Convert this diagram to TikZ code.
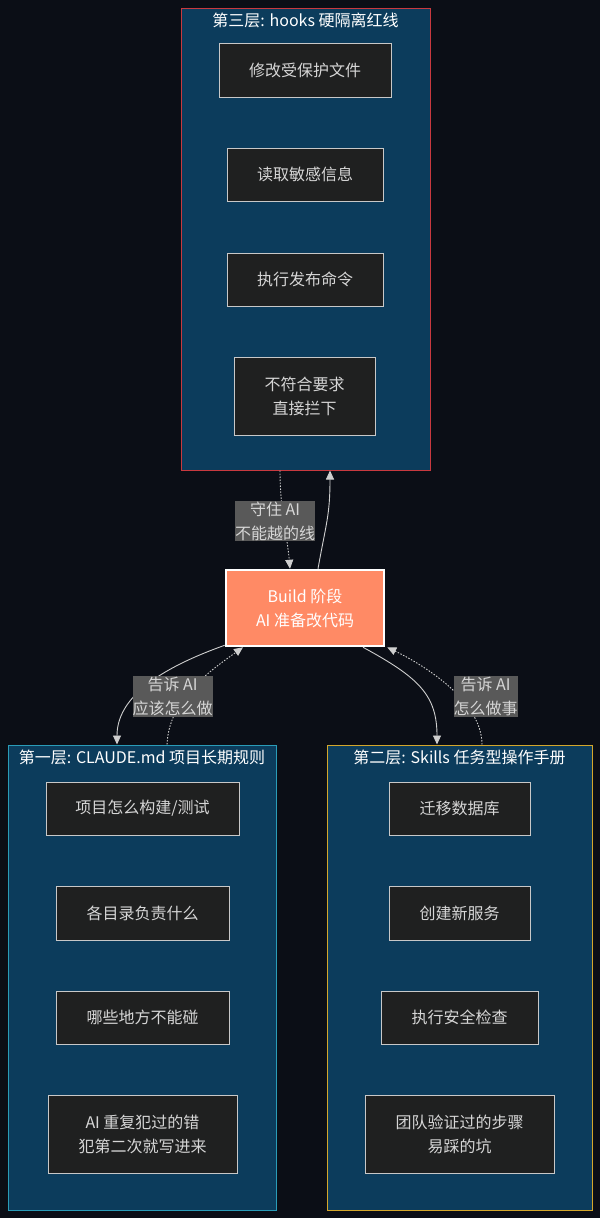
\documentclass[tikz,border=0pt]{standalone}
\usepackage{fontspec}
\setmainfont{Noto Sans CJK SC}
\usetikzlibrary{arrows.meta}

\definecolor{bgdark}{HTML}{0B0E16}
\definecolor{layerfill}{HTML}{0C3C5C}
\definecolor{hooksline}{HTML}{C8393F}
\definecolor{claudeline}{HTML}{2A9CB8}
\definecolor{skillsline}{HTML}{D4A72C}
\definecolor{taskfill}{HTML}{1F2020}
\definecolor{taskline}{HTML}{C8C8C8}
\definecolor{tasktext}{HTML}{D6D6D6}
\definecolor{buildfill}{HTML}{FF8A65}
\definecolor{edgeline}{HTML}{CFCFCF}
\definecolor{lblfill}{HTML}{595959}

\tikzset{
  layer/.style={draw=#1, line width=1pt, fill=layerfill, inner sep=0pt},
  layertitle/.style={text=white, font=\fontsize{16}{20}\selectfont, inner sep=0pt},
  task/.style={draw=taskline, line width=0.8pt, fill=taskfill, text=tasktext,
    align=center, inner sep=0pt, font=\fontsize{16}{24}\selectfont},
  edgelbl/.style={fill=lblfill, text=tasktext, align=center, inner xsep=0pt,
    inner ysep=1pt, font=\fontsize{16}{24}\selectfont},
  solidedge/.style={draw=edgeline, line width=0.9pt, -{Triangle[length=9pt,width=8pt]}},
  dotedge/.style={solidedge, dash pattern=on 1.5pt off 1.5pt}
}

\begin{document}
\begin{tikzpicture}[x=1pt, y=-1pt]
  %%%%% START %%%%%

  \fill[bgdark] (0,0) rectangle (600,1218);

  % third layer: hooks
  \node[layer=hooksline, minimum width=249, minimum height=462] (hooks) at (305.5,239) {};
  \node[layertitle] (hookstitle) at (305.5,20) {第三层: hooks 硬隔离红线};
  \node[task, minimum width=172, minimum height=54] (protect) at (305,70) {修改受保护文件};
  \node[task, minimum width=156, minimum height=53] (secret) at (305,174.5) {读取敏感信息};
  \node[task, minimum width=156, minimum height=53] (release) at (305,279.5) {执行发布命令};
  \node[task, minimum width=141, minimum height=78] (block) at (304.5,396) {不符合要求\\直接拦下};

  % build stage
  \node[draw=white, line width=2.5pt, fill=buildfill, text=white, align=center,
    minimum width=158, minimum height=76, font=\fontsize{16}{24}\selectfont]
    (build) at (305,608) {Build 阶段\\AI 准备改代码};

  % first layer: CLAUDE.md
  \node[layer=claudeline, minimum width=268, minimum height=465] (claude) at (142,977.5) {};
  \node[layertitle] (claudetitle) at (142,757) {第一层: CLAUDE.md 项目长期规则};
  \node[task, minimum width=193, minimum height=53] (buildtest) at (142.5,808.5) {项目怎么构建/测试};
  \node[task, minimum width=173, minimum height=54] (dirs) at (142.5,913) {各目录负责什么};
  \node[task, minimum width=173, minimum height=53] (notouch) at (142.5,1017.5) {哪些地方不能碰};
  \node[task, minimum width=189, minimum height=78] (mistake) at (142.5,1134) {AI 重复犯过的错\\犯第二次就写进来};

  % second layer: Skills
  \node[layer=skillsline, minimum width=265, minimum height=465] (skills) at (459.5,977.5) {};
  \node[layertitle] (skillstitle) at (459.5,757) {第二层: Skills 任务型操作手册};
  \node[task, minimum width=141, minimum height=53] (migrate) at (459.5,808.5) {迁移数据库};
  \node[task, minimum width=141, minimum height=54] (service) at (459.5,913) {创建新服务};
  \node[task, minimum width=157, minimum height=53] (check) at (459.5,1017.5) {执行安全检查};
  \node[task, minimum width=189, minimum height=78] (steps) at (459.5,1134) {团队验证过的步骤\\易踩的坑};

  % connectors
  \draw[dotedge] ([xshift=-25.5pt]hooks.south) .. controls +(0,40) and +(-3,-35) .. ([xshift=-15pt]build.north);
  \draw[solidedge] ([xshift=13pt]build.north) .. controls +(8,-45) and +(0,45) .. ([xshift=24.5pt]hooks.south);
  \draw[solidedge] ([yshift=2pt]build.south west) .. controls +(-70,25) and +(0,-45) .. ([xshift=-25pt]claude.north);
  \draw[dotedge] ([xshift=25pt]claude.north) .. controls +(2,-45) and +(-35,25) .. ([xshift=-62pt]build.south);
  \draw[solidedge] ([xshift=58pt]build.south) .. controls +(55,30) and +(0,-50) .. ([xshift=-22.5pt]skills.north);
  \draw[dotedge] ([xshift=22.5pt]skills.north) .. controls +(0,-40) and +(45,22) .. ([xshift=2pt]build.south east);

  % edge labels
  \node[edgelbl] (guardlbl) at (275,521) {守住 AI\\不能越的线};
  \node[edgelbl] (claudelbl) at (172.5,696.5) {告诉 AI\\应该怎么做};
  \node[edgelbl] (skillslbl) at (485.5,696.5) {告诉 AI\\怎么做事};

  %%%%% END %%%%%
\end{tikzpicture}
\end{document}
